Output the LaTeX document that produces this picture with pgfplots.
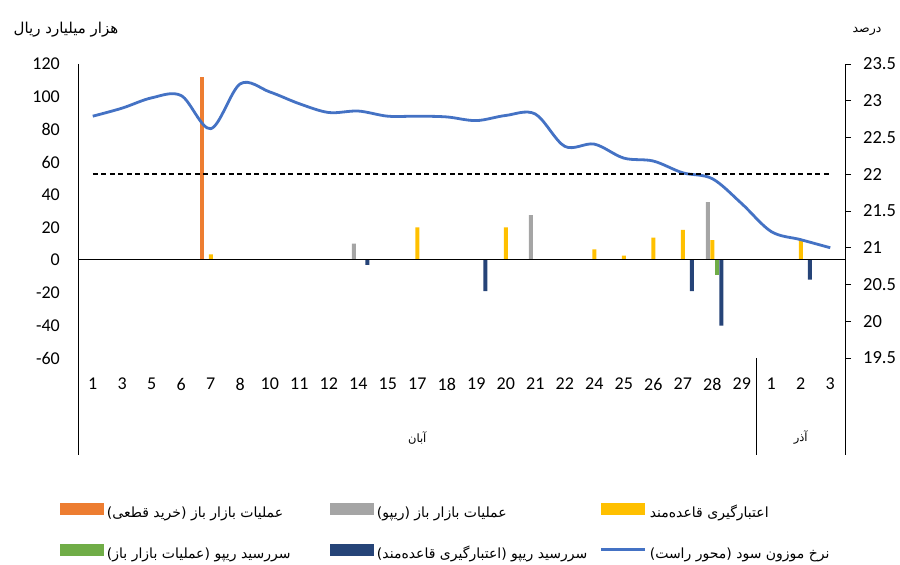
\documentclass[border=0pt]{standalone}
\usepackage{fontspec}
\setmainfont{Carlito}
\newfontfamily\fa[Script=Arabic]{DejaVu Sans}
\TeXXeTstate=1
\usepackage{pgfplots}
\pgfplotsset{compat=1.18}
\definecolor{orangeC}{HTML}{ED7D31}
\definecolor{grayC}{HTML}{A5A5A5}
\definecolor{yellowC}{HTML}{FFC000}
\definecolor{greenC}{HTML}{70AD47}
\definecolor{dblueC}{HTML}{264478}
\definecolor{lineC}{HTML}{4472C4}
\newcommand{\fatext}[1]{{\fa\beginR #1\endR}}
\pgfplotsset{
  swatch/.style={legend image code/.code={\fill[#1] (0pt,-1pt) rectangle (44pt,11pt);}},
}
\pgfplotstableread{
x y
0 22.79
1 22.90
2 23.04
3 23.07
4 22.62
5 23.23
6 23.12
7 22.96
8 22.84
9 22.86
10 22.79
11 22.79
12 22.78
13 22.73
14 22.80
15 22.82
16 22.38
17 22.41
18 22.22
19 22.18
20 22.02
21 21.94
22 21.60
23 21.22
24 21.11
25 21.00
}\ratetable
\begin{document}
\begin{tikzpicture}
\path[use as bounding box] (0,0) rectangle (900pt,565pt);
\begin{axis}[
  at={(78pt,207pt)}, anchor=south west,
  scale only axis, width=767pt, height=294pt,
  xmin=-0.5, xmax=25.5, ymin=-60, ymax=120,
  axis x line*=bottom, axis y line*=left,
  axis line style={draw=none},
  ytick={-60,-40,-20,0,20,40,60,80,100,120},
  xtick={0,...,25},
  xticklabels={1,3,5,6,7,8,10,11,12,14,15,17,18,19,20,21,22,24,25,26,27,28,29,1,2,3},
  major tick length=0pt,
  tick style={draw=none},
  /pgf/number format/assume math mode=true,
  ticklabel style={font=\fontsize{18}{20}\selectfont, inner sep=0pt},
  yticklabel style={anchor=east, xshift=-18pt},
  xticklabel style={anchor=north, yshift=-20pt},
  clip=false,
  legend columns=3,
  legend cell align=left,
  legend style={at={(-0.02347,-0.4932)}, anchor=north west,
    draw=none, fill=none, inner sep=0pt, outer sep=0pt,
    column sep=3pt, row sep=22pt,
    nodes={inner sep=0pt, text height=11pt, text depth=4pt, font=\fontsize{14}{16}\selectfont}},
]
\addplot[ybar, bar width=4pt, bar shift=-9pt, fill=orangeC, draw=none, swatch=orangeC] coordinates {(4,112)};
\addlegendentry{\makebox[220pt][l]{\fatext{عملیات بازار باز (خرید قطعی)}}}
\addplot[ybar, bar width=4pt, bar shift=-4.5pt, fill=grayC, draw=none, swatch=grayC] coordinates {(9,10) (15,27.5) (21,35.5)};
\addlegendentry{\makebox[220pt][l]{\fatext{عملیات بازار باز (ریپو)}}}
\addplot[ybar, bar width=4pt, bar shift=0pt, fill=yellowC, draw=none, swatch=yellowC] coordinates {(4,3.5) (11,20) (14,20) (17,6.5) (18,2.7) (19,13.7) (20,18.4) (21,12.2) (24,12.2)};
\addlegendentry{\fatext{اعتبارگیری قاعده‌مند}}
\addplot[ybar, bar width=4pt, bar shift=4.5pt, fill=greenC, draw=none, swatch=greenC] coordinates {(21,-9.2)};
\addlegendentry{\makebox[220pt][l]{\fatext{سررسید ریپو (عملیات بازار باز)}}}
\addplot[ybar, bar width=4pt, bar shift=9pt, fill=dblueC, draw=none, swatch=dblueC] coordinates {(9,-3) (13,-19) (20,-19) (21,-40.2) (24,-12)};
\addlegendentry{\makebox[220pt][l]{\fatext{سررسید ریپو (اعتبارگیری قاعده‌مند)}}}
\addlegendimage{legend image code/.code={\path[draw=none, fill=none] (0pt,-1pt) rectangle (44pt,11pt); \draw[draw=lineC, fill=none, line width=2.8pt] (0pt,5pt) -- (44pt,5pt);}}
\addlegendentry{\fatext{نرخ موزون سود (محور راست)}}
\draw[line width=0.8pt] (rel axis cs:0,1) -- ([yshift=-97pt]rel axis cs:0,0);
\draw[line width=0.8pt] (rel axis cs:1,0) -- ([yshift=-97pt]rel axis cs:1,0);
\draw[line width=0.8pt] (axis cs:22.5,-60) -- ([yshift=-97pt]axis cs:22.5,-60);
\draw[line width=1pt] (axis cs:-0.5,0) -- (axis cs:25.5,0);
\node[font=\fontsize{11.5}{13}\selectfont] at ([yshift=-80pt]axis cs:11,-60) {\fatext{آبان}};
\node[font=\fontsize{11.5}{13}\selectfont] at ([yshift=-80pt]axis cs:24,-60) {\fatext{آذر}};
\end{axis}
\begin{axis}[
  at={(78pt,207pt)}, anchor=south west,
  scale only axis, width=767pt, height=294pt,
  xmin=-0.5, xmax=25.5, ymin=19.5, ymax=23.5,
  axis y line*=right, axis x line=none,
  y axis line style={line width=0.8pt, -},
  ytick={19.5,20,20.5,21,21.5,22,22.5,23,23.5},
  tick align=outside, major tick length=6pt,
  ytick style={line width=0.8pt, black},
  /pgf/number format/assume math mode=true,
  yticklabel style={font=\fontsize{18.5}{20}\selectfont, inner sep=0pt, anchor=west, xshift=12pt},
  clip=false,
]
\addplot[lineC, line width=2.8pt, smooth, tension=0.55] table[x=x, y=y] {\ratetable};
\addplot[black, line width=2.2pt, dash pattern=on 5pt off 3.5pt] coordinates {(0,22) (25,22)};
\end{axis}
\node[font=\fontsize{15}{17}\selectfont] at (66pt,535pt) {\fatext{هزار میلیارد ریال}};
\node[font=\fontsize{12.5}{14}\selectfont] at (867pt,534pt) {\fatext{درصد}};
\end{tikzpicture}
\end{document}
